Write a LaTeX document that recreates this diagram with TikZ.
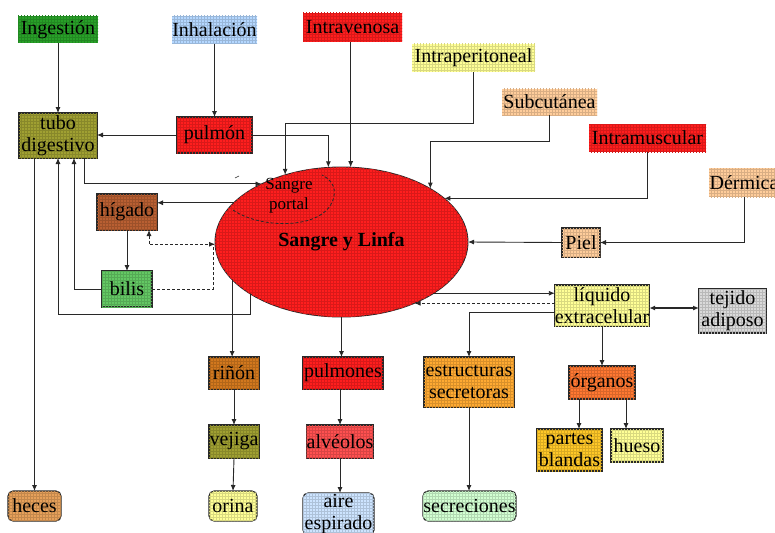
\documentclass[tikz,border=0pt]{standalone}
\usepackage{fontspec}
\setmainfont{Liberation Serif}
\usetikzlibrary{arrows.meta,patterns,calc,shapes.geometric}

\definecolor{cGreen}{RGB}{40,160,40}
\definecolor{cSky}{RGB}{180,215,255}
\definecolor{cRed}{RGB}{255,30,30}
\definecolor{cLemon}{RGB}{255,255,150}
\definecolor{cPeach}{RGB}{255,205,155}
\definecolor{cOlive}{RGB}{160,160,50}
\definecolor{cSienna}{RGB}{185,95,50}
\definecolor{cLeaf}{RGB}{100,200,100}
\definecolor{cGray}{RGB}{218,218,218}
\definecolor{cAmber}{RGB}{255,170,50}
\definecolor{cTangerine}{RGB}{255,120,50}
\definecolor{cGold}{RGB}{255,200,40}
\definecolor{cRust}{RGB}{210,120,30}
\definecolor{cRose}{RGB}{255,80,80}
\definecolor{cTan}{RGB}{230,160,90}
\definecolor{cIce}{RGB}{205,228,255}
\definecolor{cMint}{RGB}{210,255,210}
\definecolor{ink}{RGB}{40,40,40}

\tikzset{
  box/.style={rectangle, inner sep=0pt, outer sep=0pt, align=center,
    font=\fontsize{20}{22}\selectfont, fill=#1,
    postaction={pattern=grid, pattern color=#1!85!black}},
  framed/.style={box=#1, draw=ink, line width=1.1pt},
  roundbox/.style={framed=#1, rounded corners=5pt},
  arr/.style={-{Latex[length=6pt,width=5pt]}, line width=0.9pt, draw=ink},
  dasharr/.style={arr, dash pattern=on 3pt off 2pt},
}

\begin{document}
\begin{tikzpicture}[x=1pt,y=-1pt]
\useasboundingbox (0,0) rectangle (775,532);

% central compartment
\node[ellipse, draw=ink, line width=0.9pt, fill=cRed,
      postaction={pattern=grid, pattern color=cRed!85!black},
      minimum width=253, minimum height=150, inner sep=0pt, outer sep=0pt,
      font=\bfseries\fontsize{20}{22}\selectfont] (el) at (341.5,242) {Sangre y Linfa};

% portal region inside the ellipse
\draw[ink, line width=0.8pt, dash pattern=on 3pt off 2pt]
  (233,210) .. controls (262,230) and (328,230) .. (334,196)
  .. controls (336,186) and (330,179) .. (322,175);
\node[align=center, font=\fontsize{17}{20}\selectfont] (portal) at (289,196) {Sangre\\portal};
\draw[ink, line width=0.6pt] (235,178) -- (239,176);

% routes of entry
\node[box=cGreen, minimum width=80, minimum height=27] (ing) at (58,29.5) {Ingestión};
\node[box=cSky, minimum width=85, minimum height=28] (inh) at (214.5,30) {Inhalación};
\node[box=cRed, minimum width=99, minimum height=29] (iv) at (352.5,27.5) {Intravenosa};
\node[box=cLemon, minimum width=123, minimum height=28] (ip) at (473.5,58) {Intraperitoneal};
\node[box=cPeach, minimum width=95, minimum height=26] (sc) at (549.5,102) {Subcutánea};
\node[box=cRed, minimum width=117, minimum height=28] (im) at (647.5,138) {Intramuscular};
\node[box=cPeach, minimum width=70, minimum height=29] (der) at (744,182.5) {Dérmica};
\node[framed=cPeach, minimum width=38, minimum height=29] (piel) at (581,242.5) {Piel};

% organs
\node[framed=cOlive, minimum width=78, minimum height=45] (tubo) at (58,135.5) {tubo\\digestivo};
\node[framed=cRed, minimum width=75, minimum height=36] (pulmon) at (214.5,135) {pulmón};
\node[framed=cSienna, minimum width=60, minimum height=36] (higado) at (127,212) {hígado};
\node[framed=cLeaf, minimum width=50, minimum height=36] (bilis) at (127,289) {bilis};
\node[framed=cLemon, minimum width=94, minimum height=41] (liq) at (602,305.5) {líquido\\extracelular};
\node[framed=cGray, minimum width=67, minimum height=44] (tej) at (732.5,311) {tejido\\adiposo};
\node[framed=cAmber, minimum width=90, minimum height=50] (est) at (469,382) {estructuras\\secretoras};
\node[framed=cTangerine, minimum width=66, minimum height=33] (org) at (602,382.5) {órganos};
\node[framed=cGold, minimum width=65, minimum height=42] (pb) at (569.5,450) {partes\\blandas};
\node[framed=cLemon, minimum width=52, minimum height=33] (hueso) at (637,445.5) {hueso};
\node[framed=cRust, minimum width=50, minimum height=32] (rinon) at (234,373) {riñón};
\node[framed=cRed, minimum width=80, minimum height=32] (pulmones) at (343,373) {pulmones};
\node[framed=cOlive, minimum width=50, minimum height=33] (vejiga) at (234,441.5) {vejiga};
\node[framed=cRose, minimum width=66, minimum height=33] (alv) at (340,441.5) {alvéolos};

% excretion products
\node[roundbox=cTan, minimum width=53, minimum height=30] (heces) at (34.5,506) {heces};
\node[roundbox=cLemon, minimum width=48, minimum height=30] (orina) at (233,506) {orina};
\node[roundbox=cIce, minimum width=71, minimum height=42] (aire) at (338.5,514) {aire\\espirado};
\node[roundbox=cMint, minimum width=93, minimum height=30] (secr) at (469.5,506) {secreciones};

% entry connectors
\draw[arr] (ing) -- (tubo);
\draw[arr] (inh) -- (pulmon);
\draw[arr] (pulmon.west) -- (pulmon.west -| tubo.east);
\draw[arr] (pulmon.east) -| (el.100.26);
\draw[arr] (el.83.5 |- iv.south) -- (el.83.5);
\draw[arr] (ip.south) -- ++(0,51) -| (el.130.1);
\draw[arr] (sc.south) -- ++(0,26) -| (el.31.2);
\draw[arr] (im.south) |- (el.23.25);
\draw[arr] (der.south) |- (piel.east);
\draw[arr] (piel.west) -- (el.east);

% digestive and hepatic circuit
\draw[arr] ($(tubo.south)+(26,0)$) |- (el.144.1);
\draw[arr] (el.160.8) -- (el.160.8 -| higado.east);
\draw[arr] (higado) -- (bilis);
\draw[arr] (bilis.west) -| ($(tubo.south)+(16,0)$);
\draw[arr] (el.210.6) -- ++(0,20) -| (tubo.south);
\draw[arr] (heces.north |- tubo.south) -- (heces.north);
\draw[dasharr, {Latex[length=6pt,width=5pt]}-{Latex[length=6pt,width=5pt]}]
  ($(higado.south)+(22,0)$) |- (el.181.8);
\draw[ink, line width=0.9pt, dash pattern=on 3pt off 2pt]
  (bilis.east) -| ($(el.181.8)+(-2,0)$);

% elimination routes
\draw[arr] (el.199.6) -- (el.199.6 |- rinon.north);
\draw[arr] (rinon) -- (vejiga);
\draw[arr] (vejiga.south) -- (orina.north);
\draw[arr] (el.south) -- (el.south |- pulmones.north);
\draw[arr] (alv.north |- pulmones.south) -- (alv.north);
\draw[arr] (alv.south) -- (alv.south |- aire.north);

% distribution
\draw[arr] (el.331.2) -- (el.331.2 -| liq.west);
\draw[dasharr] (liq.west |- el.320.35) -- (el.320.35);
\draw[arr] ($(liq.west)+(0,6.5)$) -| (est.north);
\draw[arr] (org.north |- liq.south) -- (org.north);
\draw[arr, line width=1.5pt, {Latex[length=6pt,width=5pt]}-{Latex[length=6pt,width=5pt]}]
  ($(liq.east)+(0,2.5)$) coordinate (l1) -- (l1 -| tej.west);
\draw[arr] ($(org.south)+(-23,0)$) coordinate (o1) -- (o1 |- pb.north);
\draw[arr] ($(org.south)+(24,0)$) coordinate (o2) -- (o2 |- hueso.north);
\draw[arr] (est.south) -- (est.south |- secr.north);
\end{tikzpicture}
\end{document}
